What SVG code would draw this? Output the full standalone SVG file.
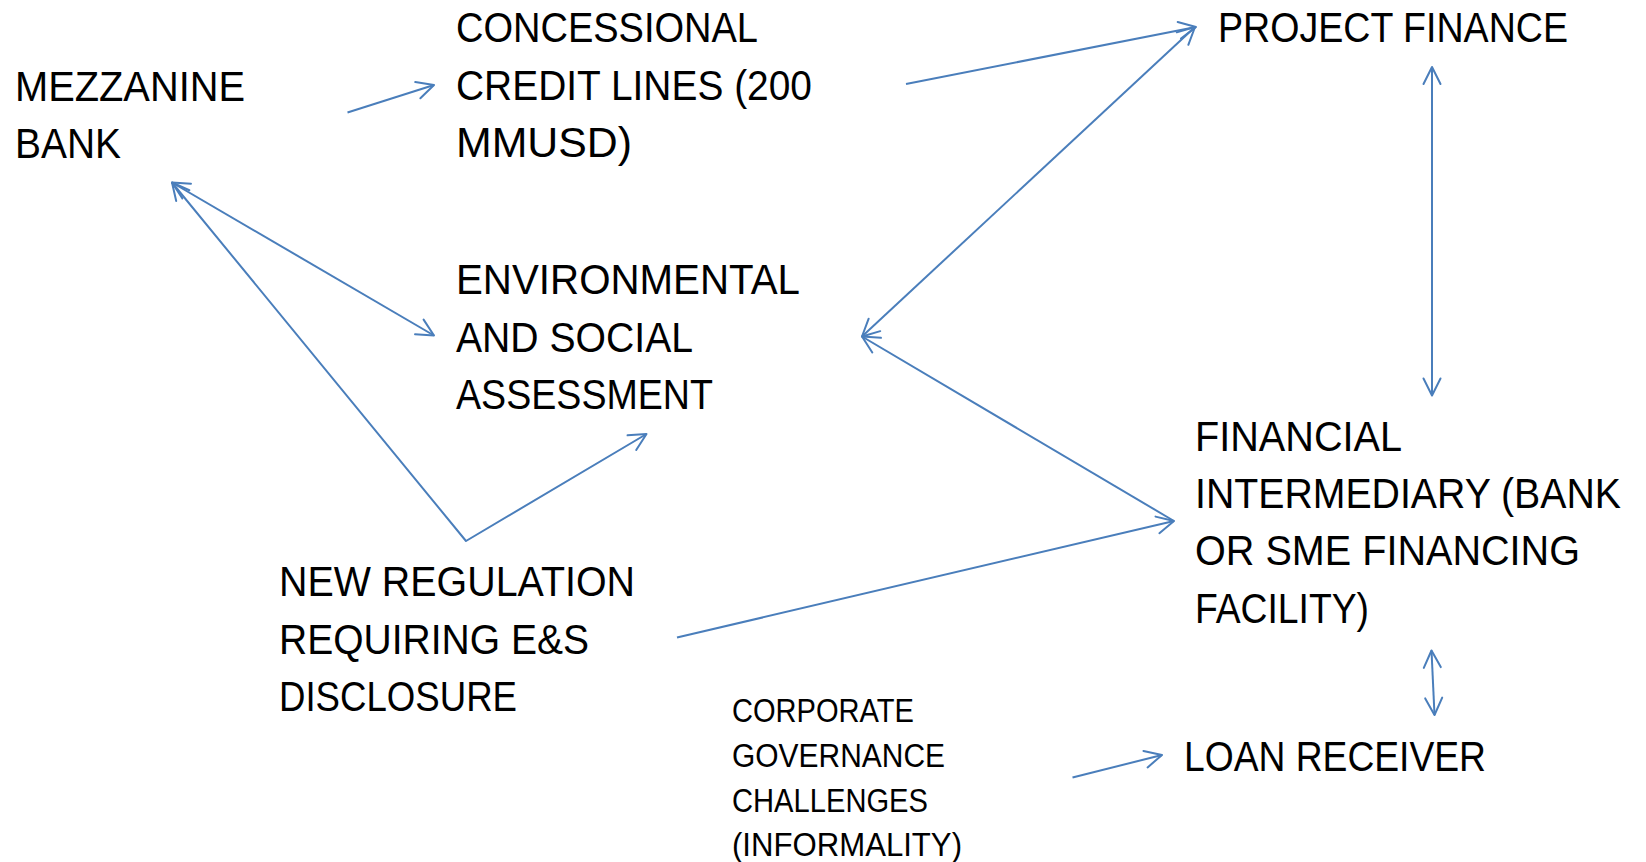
<svg xmlns="http://www.w3.org/2000/svg" width="1646" height="862" viewBox="0 0 1646 862">
<style>
.t{font-family:"Liberation Sans",Arial,sans-serif;font-size:42px;fill:#000}
.s{font-family:"Liberation Sans",Arial,sans-serif;font-size:33px;fill:#000}
.c{fill:none;stroke:#4A7EBB;stroke-width:2;stroke-linejoin:round}
</style>
<defs>
<marker id="arr" viewBox="-20 -12 24 24" refX="0" refY="0" markerWidth="24" markerHeight="24" markerUnits="userSpaceOnUse" orient="auto-start-reverse">
<path d="M-17,-8.5 L0,0 L-17,8.5" fill="none" stroke="#4A7EBB" stroke-width="2" stroke-linecap="round" stroke-linejoin="round"/>
</marker>
</defs>
<rect width="1646" height="862" fill="#fff"/>
<g id="connectors">
<path class="c" d="M347.5,112.5 L434,85" marker-end="url(#arr)"/>
<path class="c" d="M906,84 L1196,27" marker-end="url(#arr)"/>
<path class="c" d="M1195,27 L862,336.5" marker-start="url(#arr)" marker-end="url(#arr)"/>
<path class="c" d="M1174,521 L862,336.5" marker-end="url(#arr)"/>
<path class="c" d="M172,182.5 L466,541 L646.5,434" marker-start="url(#arr)" marker-end="url(#arr)"/>
<path class="c" d="M172,182.5 L434,335.5" marker-start="url(#arr)" marker-end="url(#arr)"/>
<path class="c" d="M1432,67 L1432,395.5" marker-start="url(#arr)" marker-end="url(#arr)"/>
<path class="c" d="M1431.5,650.5 L1434.5,715" marker-start="url(#arr)" marker-end="url(#arr)"/>
<path class="c" d="M1072.5,777.5 L1162,755" marker-end="url(#arr)"/>
<path class="c" d="M677,637.5 L1174,521" marker-end="url(#arr)"/>
</g>
<g id="mezzanine">
<text class="t" x="15" y="101" textLength="230" lengthAdjust="spacingAndGlyphs">MEZZANINE</text>
<text class="t" x="15" y="157.5" textLength="106" lengthAdjust="spacingAndGlyphs">BANK</text>
</g>
<g id="concessional">
<text class="t" x="456" y="42" textLength="302" lengthAdjust="spacingAndGlyphs">CONCESSIONAL</text>
<text class="t" x="456" y="99.5" textLength="356" lengthAdjust="spacingAndGlyphs">CREDIT LINES (200</text>
<text class="t" x="456" y="157" textLength="176" lengthAdjust="spacingAndGlyphs">MMUSD)</text>
</g>
<g id="project-finance">
<text class="t" x="1218" y="42" textLength="350" lengthAdjust="spacingAndGlyphs">PROJECT FINANCE</text>
</g>
<g id="environmental">
<text class="t" x="456" y="294" textLength="344" lengthAdjust="spacingAndGlyphs">ENVIRONMENTAL</text>
<text class="t" x="456" y="351.5" textLength="237" lengthAdjust="spacingAndGlyphs">AND SOCIAL</text>
<text class="t" x="456" y="409" textLength="257" lengthAdjust="spacingAndGlyphs">ASSESSMENT</text>
</g>
<g id="new-regulation">
<text class="t" x="279" y="596" textLength="356" lengthAdjust="spacingAndGlyphs">NEW REGULATION</text>
<text class="t" x="279" y="653.5" textLength="310" lengthAdjust="spacingAndGlyphs">REQUIRING E&amp;S</text>
<text class="t" x="279" y="711" textLength="238" lengthAdjust="spacingAndGlyphs">DISCLOSURE</text>
</g>
<g id="financial-intermediary">
<text class="t" x="1195" y="450.5" textLength="207" lengthAdjust="spacingAndGlyphs">FINANCIAL</text>
<text class="t" x="1195" y="508" textLength="426" lengthAdjust="spacingAndGlyphs">INTERMEDIARY (BANK</text>
<text class="t" x="1195" y="565" textLength="385" lengthAdjust="spacingAndGlyphs">OR SME FINANCING</text>
<text class="t" x="1195" y="622.5" textLength="174" lengthAdjust="spacingAndGlyphs">FACILITY)</text>
</g>
<g id="loan-receiver">
<text class="t" x="1184" y="771" textLength="302" lengthAdjust="spacingAndGlyphs">LOAN RECEIVER</text>
</g>
<g id="corporate-governance">
<text class="s" x="732" y="722" textLength="182" lengthAdjust="spacingAndGlyphs">CORPORATE</text>
<text class="s" x="732" y="767" textLength="213" lengthAdjust="spacingAndGlyphs">GOVERNANCE</text>
<text class="s" x="732" y="812" textLength="196" lengthAdjust="spacingAndGlyphs">CHALLENGES</text>
<text class="s" x="732" y="856" textLength="230" lengthAdjust="spacingAndGlyphs">(INFORMALITY)</text>
</g>
</svg>
